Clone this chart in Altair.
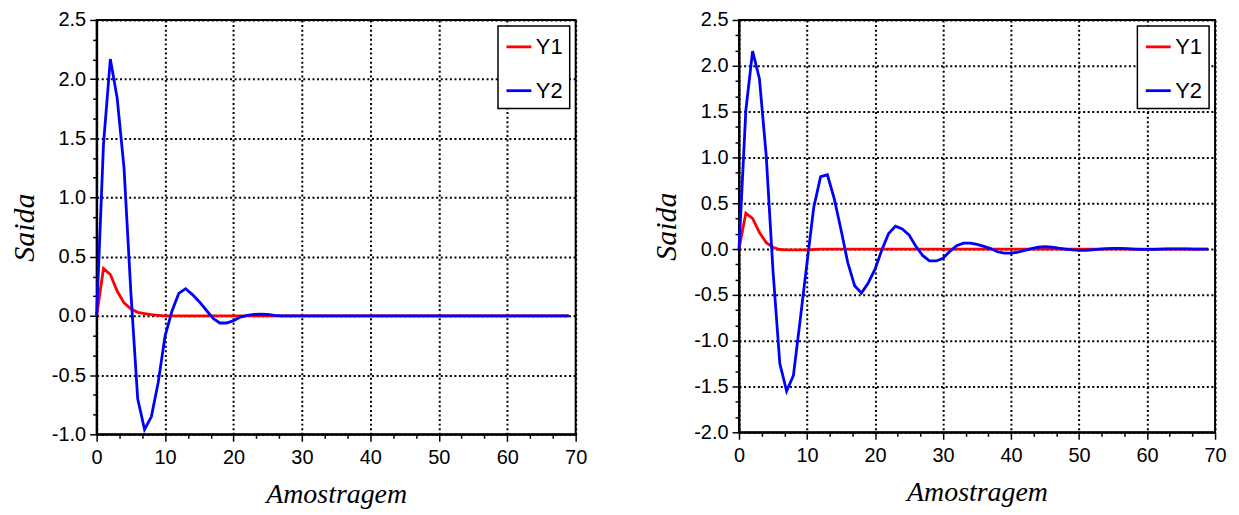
import altair as alt
import pandas as pd

# ---- data ----
samples = list(range(70))

left_y1 = [0.0, 0.40, 0.35, 0.21, 0.11, 0.06, 0.03, 0.02, 0.01, 0.005] + [0.0] * 60
left_y2 = [0.0, 1.45, 2.17, 1.84, 1.25, 0.20, -0.70, -0.96, -0.85, -0.56,
           -0.17, 0.04, 0.19, 0.23, 0.18, 0.12, 0.05, -0.02, -0.06, -0.06,
           -0.04, -0.01, 0.005, 0.012, 0.015, 0.012, 0.005] + [0.0] * 43

right_y1 = [0.0, 0.39, 0.335, 0.18, 0.07, 0.02, -0.005, -0.01, -0.01, -0.01,
            -0.008, -0.005, -0.002] + [0.0] * 57
right_y2 = [0.0, 1.51, 2.16, 1.86, 1.02, -0.24, -1.25, -1.55, -1.38, -0.77,
            -0.15, 0.46, 0.79, 0.81, 0.55, 0.21, -0.15, -0.40, -0.48, -0.37,
            -0.22, -0.01, 0.17, 0.25, 0.22, 0.155, 0.03, -0.07, -0.13, -0.13,
            -0.10, -0.025, 0.036, 0.065, 0.065,
            0.05, 0.03, 0.005, -0.03, -0.045, -0.045, -0.035, -0.015, 0.005, 0.02,
            0.027, 0.022, 0.01, 0.0, -0.01, -0.014, -0.013, -0.008, -0.002, 0.004,
            0.007, 0.007, 0.004, 0.0, -0.003, -0.004, -0.003, -0.001, 0.001, 0.002,
            0.002, 0.001, 0.0, -0.001, -0.001]

series_names = ["Y1", "Y2"]
series_colors = ["#ff0000", "#0000ff"]

x_title = "Amostragem"
y_title = "Saida"

# tick positions (major + two minor ticks between majors)
x_ticks = [round(i * 10 / 3, 6) for i in range(22)]
y_ticks_left = [round(-1 + i / 6, 6) for i in range(22)]
y_ticks_right = [round(-2 + i / 6, 6) for i in range(28)]

X_MAJOR = "abs(datum.value/10 - round(datum.value/10)) < 1e-6"
Y_MAJOR = "abs(datum.value*2 - round(datum.value*2)) < 1e-6"


def cond(test, yes, no):
    return {"condition": {"test": test, "value": yes}, "value": no}


def panel(y1, y2, ydomain, yticks, w, h):
    df = pd.DataFrame({
        "k": samples + samples,
        "v": y1 + y2,
        "s": [series_names[0]] * len(y1) + [series_names[1]] * len(y2),
    })
    return alt.Chart(df).mark_line(strokeWidth=2.8).encode(
        x=alt.X("k:Q",
                scale=alt.Scale(domain=[0, 70], nice=False, zero=False),
                axis=alt.Axis(values=x_ticks, title=x_title,
                              labelExpr=f"{X_MAJOR} ? format(datum.value, 'd') : ''",
                              tickSize=cond(X_MAJOR, 7, 4),
                              gridOpacity=cond(X_MAJOR, 1, 0),
                              labelFlush=False, labelOverlap=False,
                              labelPadding=6, titlePadding=13,
                              titleFontSize=28)),
        y=alt.Y("v:Q",
                scale=alt.Scale(domain=ydomain, nice=False, zero=False),
                axis=alt.Axis(values=yticks, title=y_title,
                              labelExpr=f"{Y_MAJOR} ? replace(format(datum.value, '.1f'), '\u2212', '-') : ''",
                              tickSize=cond(Y_MAJOR, 7, 4),
                              gridOpacity=cond(Y_MAJOR, 1, 0),
                              labelFlush=False, labelOverlap=False,
                              labelPadding=4, titlePadding=12,
                              titleFontSize=30)),
        color=alt.Color("s:N",
                        scale=alt.Scale(domain=series_names, range=series_colors),
                        legend=alt.Legend(title=None, orient="top-right", offset=6,
                                          symbolType="stroke", symbolSize=625,
                                          symbolStrokeWidth=2.8)),
    ).properties(width=w, height=h)


left = panel(left_y1, left_y2, [-1, 2.5], y_ticks_left, 481, 416)
right = panel(right_y1, right_y2, [-2, 2.5], y_ticks_right, 478, 414)

chart = alt.hconcat(left, right, spacing=62).resolve_scale(
    x="independent", y="independent", color="independent"
).resolve_legend(color="independent").properties(
    padding={"left": 0, "top": 0, "right": 3, "bottom": 0}
).configure_view(
    stroke="black", strokeWidth=2
).configure_axis(
    labelFont="Liberation Sans", labelFontSize=20, labelColor="black",
    titleFont="Liberation Serif", titleFontStyle="italic", titleFontWeight="normal",
    titleColor="black",
    domainColor="black", domainWidth=2,
    tickColor="black", tickWidth=1.5,
    gridColor="black", gridDash=[2, 2.6], gridWidth=2,
).configure_legend(
    labelFont="Liberation Sans", labelFontSize=22, labelColor="black",
    fillColor="white", strokeColor="black", strokeWidth=1.5,
    padding=7, rowPadding=19, labelOffset=3,
)

chart.save("out.html", embed_options={"renderer": "svg", "actions": False})
